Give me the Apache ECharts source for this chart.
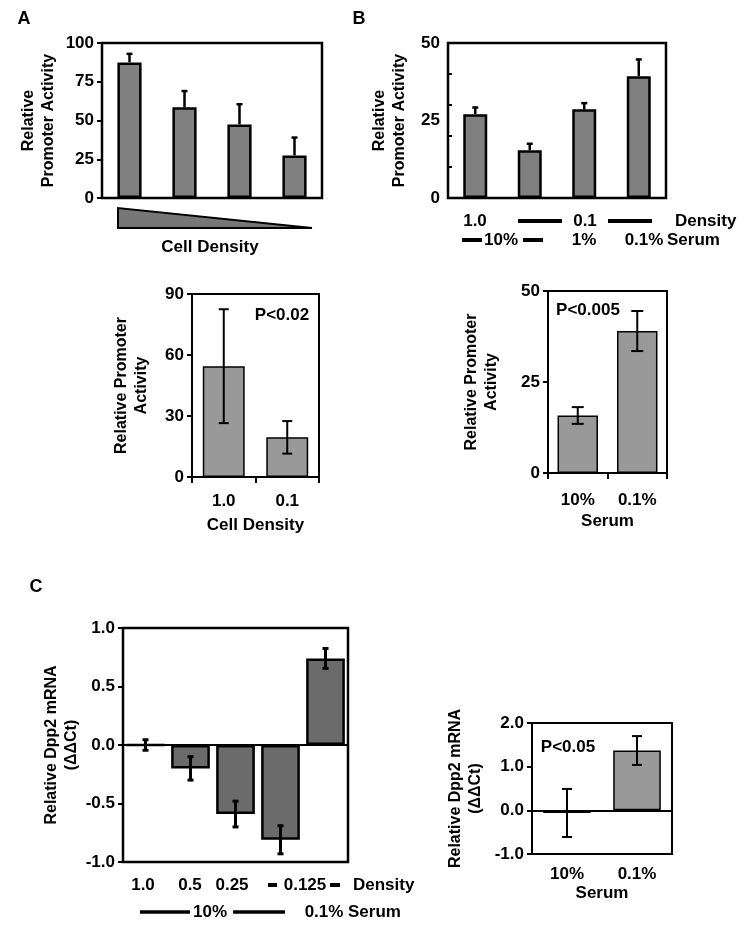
<!DOCTYPE html>
<html>
<head>
<meta charset="utf-8">
<script src="https://cdn.jsdelivr.net/npm/echarts@6/dist/echarts.min.js"></script>
<style>
  html, body { margin: 0; padding: 0; background: #fff; }
  #chart { width: 750px; height: 933px; }
</style>
</head>
<body>
<div id="chart"></div>
<script>
// panel A, top: promoter activity vs cell density (4 levels)
const aTopCats = ['1', '2', '3', '4']
const aTopVals = [87.5, 58.5, 47.5, 27.5]
const aTopErr = [5.5, 10.5, 13, 11.5]
// panel B, top: density / serum combinations
const bTopCats = ['1.0 / 10%', '0.1 / 10%', '0.1 / 1%', '0.1 / 0.1%']
const bTopVals = [27, 15.4, 28.6, 39.3]
const bTopErr = [2.2, 2.1, 2, 5.4]
// panel A, bottom
const aBotCats = ['1.0', '0.1']
const aBotVals = [54.5, 19.5]
const aBotErr = [28, 8]
// panel B, bottom
const bBotCats = ['10%', '0.1%']
const bBotVals = [15.8, 39]
const bBotErr = [2.3, 5.5]
// panel C, left: Dpp2 mRNA
const cLeftCats = ['1.0', '0.5', '0.25', '0.125', '0.125 / 0.1%']
const cLeftVals = [0, -0.2, -0.59, -0.81, 0.74]
const cLeftErr = [0.045, 0.1, 0.11, 0.12, 0.085]
// panel C, right
const cRightCats = ['10%', '0.1%']
const cRightVals = [-0.06, 1.37]
const cRightErr = [0.55, 0.33]

const FONT = '"Liberation Sans", Arial, sans-serif'
const labelStyle = { color: '#000', fontWeight: 'bold', fontSize: 17, fontFamily: FONT }
const nameStyle = { color: '#000', fontWeight: 'bold', fontSize: 16, lineHeight: 20, fontFamily: FONT }

function yAx (grid, min, max, interval, name, gap, opts) {
  return Object.assign({
    type: 'value', gridIndex: grid, position: 'left', min: min, max: max, interval: interval,
    name: name, nameLocation: 'middle', nameGap: gap, nameTextStyle: nameStyle,
    axisLine: { show: true, lineStyle: { color: '#000', width: 2 } },
    axisTick: { show: true, length: 5, lineStyle: { color: '#000', width: 2 } },
    axisLabel: Object.assign({ margin: 8 }, labelStyle),
    splitLine: { show: false }
  }, opts || {})
}

function xAx (grid, cats, opts) {
  return Object.assign({
    type: 'category', gridIndex: grid, data: cats,
    axisLine: { show: true, onZero: false, lineStyle: { color: '#000', width: 2 } },
    axisTick: { show: false },
    axisLabel: { show: false },
    splitLine: { show: false }
  }, opts || {})
}

function barSeries (xi, yi, vals, color, width, border, zeroLine) {
  let s = {
    type: 'bar', xAxisIndex: xi, yAxisIndex: yi, data: vals, barWidth: width,
    itemStyle: { color: color, borderColor: '#000', borderWidth: border },
    z: 2
  }
  if (zeroLine) {
    s.markLine = {
      silent: true, symbol: 'none', label: { show: false },
      lineStyle: { color: '#000', width: 2, type: 'solid' },
      data: [{ yAxis: 0 }]
    }
  }
  return s
}

function errSeries (xi, yi, vals, errs, oneSided, capW, lw) {
  return {
    type: 'custom', xAxisIndex: xi, yAxisIndex: yi, z: 5,
    data: vals.map((v, i) => [i, oneSided ? v : v - errs[i], v + errs[i]]),
    encode: { x: 0, y: [1, 2] },
    renderItem: function (params, api) {
      let lo = api.coord([api.value(0), api.value(1)])
      let hi = api.coord([api.value(0), api.value(2)])
      let st = { stroke: '#000', lineWidth: lw }
      let kids = [
        { type: 'line', shape: { x1: hi[0], y1: hi[1], x2: lo[0], y2: lo[1] }, style: st },
        { type: 'line', shape: { x1: hi[0] - capW, y1: hi[1], x2: hi[0] + capW, y2: hi[1] }, style: st }
      ]
      if (!oneSided) {
        kids.push({ type: 'line', shape: { x1: lo[0] - capW, y1: lo[1], x2: lo[0] + capW, y2: lo[1] }, style: st })
      }
      return { type: 'group', children: kids }
    }
  }
}

// annotation helpers
function txt (x, y, s, align, size) {
  return {
    type: 'text', z: 10,
    style: { text: s, x: x, y: y, fill: '#000', font: 'bold ' + (size || 17) + 'px ' + FONT,
      textAlign: align || 'center', textVerticalAlign: 'middle' }
  }
}
function hl (x1, x2, y, w) {
  return { type: 'line', z: 10, shape: { x1: x1, y1: y, x2: x2, y2: y }, style: { stroke: '#000', lineWidth: w || 4 } }
}

let chart = echarts.init(document.getElementById('chart'))
chart.setOption({
  animation: false,
  backgroundColor: '#fff',
  grid: [
    { left: 102, top: 43, width: 220, height: 155, show: true, borderColor: '#000', borderWidth: 2.5 },
    { left: 448, top: 43, width: 218, height: 155, show: true, borderColor: '#000', borderWidth: 2.5 },
    { left: 192, top: 294, width: 127, height: 183, show: true, borderColor: '#000', borderWidth: 2 },
    { left: 548, top: 291, width: 119, height: 182, show: true, borderColor: '#000', borderWidth: 2 },
    { left: 123, top: 628, width: 225, height: 234, show: true, borderColor: '#000', borderWidth: 2.5 },
    { left: 532, top: 723, width: 140, height: 131, show: true, borderColor: '#000', borderWidth: 2 }
  ],
  xAxis: [
    xAx(0, aTopCats),
    xAx(1, bTopCats),
    xAx(2, aBotCats, {
      axisTick: { show: true, length: 6, lineStyle: { color: '#000', width: 2 } },
      axisLabel: Object.assign({ show: true, margin: 16 }, labelStyle),
      name: 'Cell Density', nameLocation: 'middle', nameGap: 40, nameTextStyle: labelStyle
    }),
    xAx(3, bBotCats, {
      axisTick: { show: true, length: 6, lineStyle: { color: '#000', width: 2 } },
      axisLabel: Object.assign({ show: true, margin: 19 }, labelStyle),
      name: 'Serum', nameLocation: 'middle', nameGap: 40, nameTextStyle: labelStyle
    }),
    xAx(4, cLeftCats),
    xAx(5, cRightCats, {
      axisLabel: Object.assign({ show: true, margin: 12 }, labelStyle),
      name: 'Serum', nameLocation: 'middle', nameGap: 31, nameTextStyle: labelStyle
    })
  ],
  yAxis: [
    yAx(0, 0, 100, 25, 'Relative\nPromoter Activity', 43),
    // panel B top: small inner ticks every 10, labels every 25 on an overlay axis
    yAx(1, 0, 50, 10, 'Relative\nPromoter Activity', 38, {
      axisLabel: { show: false },
      axisTick: { show: true, inside: true, length: 4, lineStyle: { color: '#000', width: 2 } }
    }),
    yAx(1, 0, 50, 25, '', 0, { axisLine: { show: false }, axisTick: { show: false } }),
    yAx(2, 0, 90, 30, 'Relative Promoter\nActivity', 40),
    yAx(3, 0, 50, 25, 'Relative Promoter\nActivity', 46),
    yAx(4, -1, 1, 0.5, 'Relative Dpp2 mRNA\n(ΔΔCt)', 39,
      { axisLabel: Object.assign({ margin: 8, formatter: v => v.toFixed(1) }, labelStyle) }),
    yAx(5, -1, 2, 1, 'Relative Dpp2 mRNA\n(ΔΔCt)', 46,
      { axisLabel: Object.assign({ margin: 8, formatter: v => v.toFixed(1) }, labelStyle) })
  ],
  series: [
    barSeries(0, 0, aTopVals, '#808080', '44%', 2.5),
    errSeries(0, 0, aTopVals, aTopErr, true, 3, 2.5),
    barSeries(1, 1, bTopVals, '#808080', '44%', 2.5),
    errSeries(1, 1, bTopVals, bTopErr, true, 3, 2.5),
    barSeries(2, 3, aBotVals, '#999999', '66%', 1.5),
    errSeries(2, 3, aBotVals, aBotErr, false, 5, 2),
    barSeries(3, 4, bBotVals, '#999999', '68%', 1.5),
    errSeries(3, 4, bBotVals, bBotErr, false, 6, 2),
    barSeries(4, 5, cLeftVals, '#6b6b6b', '86%', 2.5, true),
    errSeries(4, 5, cLeftVals, cLeftErr, false, 3, 3),
    barSeries(5, 6, cRightVals, '#999999', '68%', 1.5, true),
    errSeries(5, 6, cRightVals, cRightErr, false, 5, 2)
  ],
  graphic: [
    txt(24, 19, 'A', 'center', 18),
    txt(359, 19, 'B', 'center', 18),
    txt(36, 587, 'C', 'center', 18),
    // density wedge under panel A
    { type: 'polygon', z: 10, shape: { points: [[118, 208], [118, 228], [312, 228]] },
      style: { fill: '#777', stroke: '#000', lineWidth: 2 } },
    txt(210, 247, 'Cell Density'),
    // condition rows under panel B
    txt(475, 221, '1.0'), hl(518, 562, 221), txt(585, 221, '0.1'), hl(608, 652, 221),
    txt(675, 221, 'Density', 'left'),
    hl(462, 482, 240), txt(501, 240, '10%'), hl(523, 543, 240), txt(584, 240, '1%'),
    txt(644, 240, '0.1%'), txt(667, 240, 'Serum', 'left'),
    // p values
    txt(282, 315, 'P<0.02'),
    txt(588, 310, 'P<0.005'),
    txt(568, 747, 'P<0.05'),
    // condition rows under panel C
    txt(143, 885, '1.0'), txt(190, 885, '0.5'), txt(232, 885, '0.25'), hl(268, 277, 885),
    txt(305, 885, '0.125'), hl(330, 340, 885), txt(353, 885, 'Density', 'left'),
    hl(140, 190, 912, 3.5), txt(210, 912, '10%'), hl(233, 285, 912, 3.5),
    txt(324, 912, '0.1%'), txt(348, 912, 'Serum', 'left')
  ]
})
</script>
</body>
</html>
